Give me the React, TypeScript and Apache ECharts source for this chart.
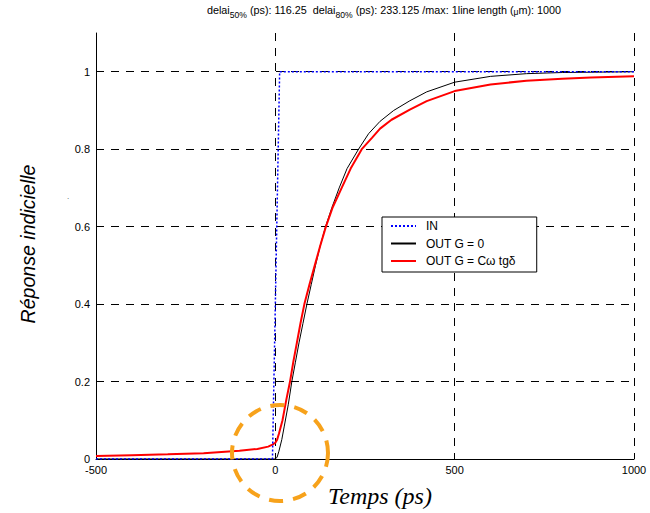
import React, { useEffect, useRef } from 'react';
import * as echarts from 'echarts';

const SANS = 'Arial, "Liberation Sans", sans-serif';
const SERIF = '"Times New Roman", "Liberation Serif", serif';

const seriesNames = ['IN', 'OUT G = 0', 'OUT G = Cω tgδ'];

const inTime = [-500, -8, 12, 1000];
const inValue = [0, 0, 1, 1];

const outTime = [-500, 0, 5, 10, 18, 25, 36, 46, 56, 66, 77, 88, 100, 112, 125, 140, 158, 178, 200, 232, 260, 292, 330, 375, 422, 500, 600, 700, 800, 1000];
const outValue = [0, 0, 0.005, 0.02, 0.05, 0.085, 0.14, 0.2, 0.25, 0.3, 0.35, 0.4, 0.45, 0.5, 0.55, 0.6, 0.65, 0.7, 0.75, 0.8, 0.84, 0.872, 0.9, 0.925, 0.948, 0.973, 0.988, 0.995, 0.998, 1.0];

const lossTime = [-500, -400, -300, -200, -100, -50, -20, -8, 0, 5, 10, 20, 30, 41, 50, 60, 70, 81, 95, 110, 125, 141, 160, 185, 210, 241, 270, 292, 324, 375, 422, 500, 600, 700, 800, 880, 1000];
const lossValue = [0.008, 0.01, 0.012, 0.015, 0.021, 0.026, 0.032, 0.037, 0.042, 0.05, 0.065, 0.1, 0.15, 0.2, 0.25, 0.3, 0.35, 0.4, 0.45, 0.5, 0.55, 0.6, 0.65, 0.7, 0.75, 0.8, 0.83, 0.853, 0.876, 0.902, 0.924, 0.95, 0.967, 0.977, 0.982, 0.985, 0.988];

const yTicks = [0, 0.2, 0.4, 0.6, 0.8, 1];
const yGrid = [0.2, 0.4, 0.6, 0.8, 1];

const pairs = (t: number[], v: number[]) => t.map((x, i) => [x, v[i]]);

export default function App() {
  const ref = useRef<HTMLDivElement>(null);
  useEffect(() => {
    const chart = echarts.init(ref.current!, null, { renderer: 'svg' });
    const gridDash = [8, 7];
    chart.setOption({
      animation: false,
      backgroundColor: '#fff',
      grid: { left: 96, right: 16, top: 33, bottom: 54, containLabel: false },
      xAxis: {
        type: 'value',
        min: -500,
        max: 1000,
        interval: 500,
        axisLine: { show: true, onZero: false, lineStyle: { color: '#000', width: 1 } },
        axisTick: { show: true, inside: true, length: 4, lineStyle: { color: '#000' } },
        axisLabel: { color: '#000', fontSize: 11, fontFamily: SANS, margin: 5, formatter: (v: number) => String(v) },
        splitLine: { show: true, lineStyle: { color: '#000', type: gridDash, width: 1 } },
      },
      yAxis: {
        type: 'value',
        min: 0,
        max: 1.1,
        interval: 0.2,
        axisLine: { show: true, onZero: false, lineStyle: { color: '#000', width: 1 } },
        axisTick: { show: true, inside: true, length: 4, lineStyle: { color: '#000' }, customValues: yTicks },
        axisLabel: {
          color: '#000', fontSize: 11, fontFamily: SANS, margin: 6,
          customValues: yTicks,
          formatter: (v: number) => (v > 1.05 ? '' : String(Math.round(v * 10) / 10)),
        },
        splitLine: { show: false },
      },
      legend: {
        orient: 'vertical',
        left: 382,
        top: 217,
        padding: [3, 21, 5, 8],
        itemWidth: 25,
        itemHeight: 12,
        itemGap: 5.5,
        backgroundColor: '#fff',
        borderColor: '#000',
        borderWidth: 1,
        borderRadius: 0,
        selectedMode: false,
        itemStyle: { color: 'transparent', borderColor: 'transparent', borderWidth: 0, opacity: 0 },
        textStyle: { color: '#000', fontSize: 12, fontFamily: SANS, padding: [0, 0, 0, 5] },
        data: seriesNames,
      },
      series: [
        {
          name: seriesNames[0],
          type: 'line',
          data: pairs(inTime, inValue),
          showSymbol: false,
          symbol: 'none',
          lineStyle: { color: '#0000ff', width: 1.5, type: [2, 2] },
          itemStyle: { color: '#0000ff' },
          z: 4,
          markLine: {
            silent: true,
            z: 1,
            symbol: ['none', 'none'],
            label: { show: false },
            lineStyle: { color: '#000', type: gridDash, width: 1 },
            data: yGrid.map((v) => ({ yAxis: v })),
          },
        },
        {
          name: seriesNames[1],
          type: 'line',
          data: pairs(outTime, outValue),
          showSymbol: false,
          symbol: 'none',
          lineStyle: { color: '#000', width: 1 },
          itemStyle: { color: '#000' },
          z: 3,
        },
        {
          name: seriesNames[2],
          type: 'line',
          data: pairs(lossTime, lossValue),
          showSymbol: false,
          symbol: 'none',
          lineStyle: { color: '#ff0000', width: 2 },
          itemStyle: { color: '#ff0000' },
          z: 3,
        },
      ],
      graphic: [
        {
          type: 'text',
          x: 384,
          y: 4,
          style: {
            text: '{a|delai}{s|50%}{a| (ps): 116.25  delai}{s|80%}{a| (ps): 233.125 /max: 1line length (}{m|μ}{a|m): 1000}',
            align: 'center',
            verticalAlign: 'top',
            fill: '#000',
            rich: {
              a: { fontSize: 10.8, fontFamily: SANS, lineHeight: 12, verticalAlign: 'top', fill: '#000' },
              s: { fontSize: 8.6, fontFamily: SANS, lineHeight: 8, padding: [6, 0, 0, 0], verticalAlign: 'top', fill: '#000' },
              m: { fontSize: 8.6, fontFamily: SANS, lineHeight: 8, padding: [3, 0, 0, 0], verticalAlign: 'top', fill: '#000' },
            },
          },
        },
        {
          type: 'text',
          x: 28,
          y: 244,
          rotation: Math.PI / 2,
          style: {
            text: 'Réponse indicielle',
            align: 'center',
            verticalAlign: 'middle',
            fontSize: 19.6,
            fontStyle: 'italic',
            fontFamily: SANS,
            fill: '#000',
          },
        },
        {
          type: 'text',
          x: 68,
          y: 196,
          style: { text: '.', fontSize: 8, fontFamily: SANS, fill: '#444', align: 'center', verticalAlign: 'middle' },
        },
        {
          type: 'text',
          x: 380,
          y: 496,
          style: {
            text: 'Temps (ps)',
            align: 'center',
            verticalAlign: 'middle',
            fontSize: 24,
            fontStyle: 'italic',
            fontFamily: SERIF,
            fill: '#000',
          },
        },
        {
          type: 'circle',
          shape: { cx: 280, cy: 453, r: 48 },
          z: 10,
          style: { fill: 'none', stroke: '#f7a21b', lineWidth: 4, lineDash: [14, 10] },
        },
      ],
    });
    return () => chart.dispose();
  }, []);
  return <div ref={ref} style={{ position: 'absolute', left: 0, top: 0, width: 650, height: 513 }} />;
}
